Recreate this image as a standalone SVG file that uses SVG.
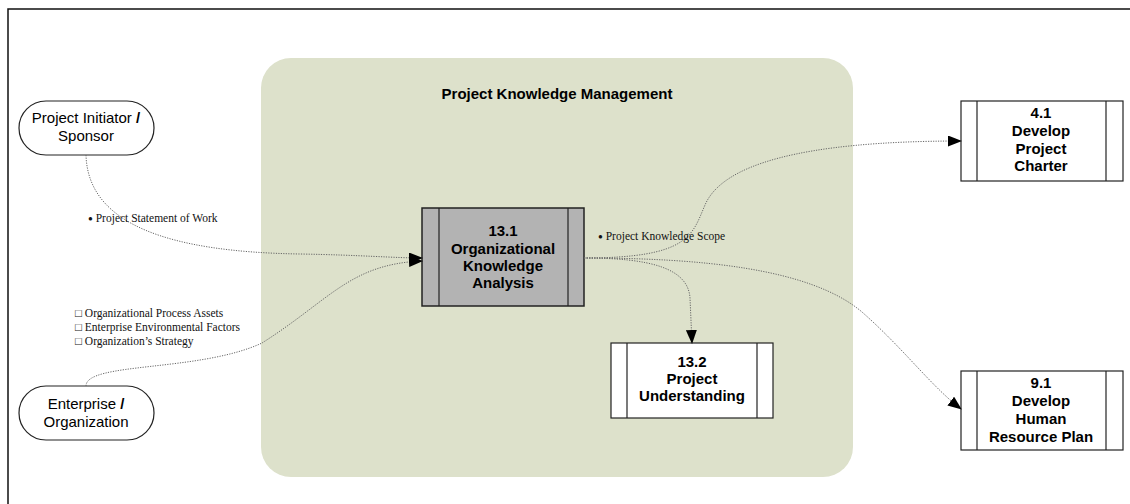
<svg xmlns="http://www.w3.org/2000/svg" width="1130" height="504" viewBox="0 0 1130 504">
<style>
.frame{fill:none;stroke:#111;stroke-width:1.5}
.term{fill:#fff;stroke:#222;stroke-width:1.2}
.proc{fill:#fff;stroke:#222;stroke-width:1.2}
.procg{fill:#b3b3b3;stroke:#222;stroke-width:1.5}
.bar{stroke:#222;stroke-width:1.2}
.t{font-family:"Liberation Sans",Arial,sans-serif;font-size:15px;fill:#000;text-anchor:middle}
.b{font-family:"Liberation Sans",Arial,sans-serif;font-size:15px;font-weight:bold;fill:#000;text-anchor:middle}
.s{font-family:"Liberation Serif","Times New Roman",serif;font-size:11.5px;fill:#111}
.c{fill:none;stroke:#666;stroke-width:1;stroke-dasharray:1.2 1.3}
</style>
<defs>
<marker id="arr" viewBox="0 0 14 11" refX="13" refY="5.5" markerWidth="14" markerHeight="11" markerUnits="userSpaceOnUse" orient="auto">
<path d="M0,0 L14,5.5 L0,11 z" fill="#000"/>
</marker>
</defs>
<rect width="1130" height="504" fill="#fff"/>
<path class="frame" d="M8,504 V9 H1130"/>
<g id="container">
<rect x="261" y="58" width="592" height="419" rx="30" ry="30" fill="#dde1cb"/>
<text class="b" x="557" y="99">Project Knowledge Management</text>
</g>
<g id="sponsor">
<rect class="term" x="19" y="101" width="135" height="54" rx="27" ry="27"/>
<text class="t" x="86" y="123">Project Initiator <tspan font-weight="bold">/</tspan></text>
<text class="t" x="86" y="141">Sponsor</text>
</g>
<g id="enterprise">
<rect class="term" x="19" y="386" width="135" height="54" rx="27" ry="27"/>
<text class="t" x="86" y="409">Enterprise <tspan font-weight="bold">/</tspan></text>
<text class="t" x="86" y="427">Organization</text>
</g>
<g id="p131">
<rect class="procg" x="422" y="208" width="162" height="98"/>
<line class="bar" x1="439" y1="208" x2="439" y2="306"/>
<line class="bar" x1="568" y1="208" x2="568" y2="306"/>
<text class="b" x="503" y="236">13.1</text>
<text class="b" x="503" y="254">Organizational</text>
<text class="b" x="503" y="271">Knowledge</text>
<text class="b" x="503" y="288">Analysis</text>
</g>
<g id="p132">
<rect class="proc" x="611" y="343" width="162" height="75"/>
<line class="bar" x1="627" y1="343" x2="627" y2="418"/>
<line class="bar" x1="757" y1="343" x2="757" y2="418"/>
<text class="b" x="692" y="367">13.2</text>
<text class="b" x="692" y="384">Project</text>
<text class="b" x="692" y="401">Understanding</text>
</g>
<g id="p41">
<rect class="proc" x="961" y="101" width="162" height="80"/>
<line class="bar" x1="977" y1="101" x2="977" y2="181"/>
<line class="bar" x1="1106" y1="101" x2="1106" y2="181"/>
<text class="b" x="1041" y="118">4.1</text>
<text class="b" x="1041" y="136">Develop</text>
<text class="b" x="1041" y="154">Project</text>
<text class="b" x="1041" y="171">Charter</text>
</g>
<g id="p91">
<rect class="proc" x="961" y="371" width="162" height="79"/>
<line class="bar" x1="977" y1="371" x2="977" y2="450"/>
<line class="bar" x1="1106" y1="371" x2="1106" y2="450"/>
<text class="b" x="1041" y="388">9.1</text>
<text class="b" x="1041" y="406">Develop</text>
<text class="b" x="1041" y="424">Human</text>
<text class="b" x="1041" y="442">Resource Plan</text>
</g>
<g id="connectors">
<path class="c" marker-end="url(#arr)" d="M86,155 C88,225 170,252 300,254 C360,255 395,258 422,258"/>
<path class="c" marker-end="url(#arr)" d="M86,386 C86,362 200,372 262,343 C330,300 350,264 422,261"/>
<path class="c" marker-end="url(#arr)" d="M584,258 C690,258 692,235 705,205 C722,165 800,141 961,141"/>
<path class="c" marker-end="url(#arr)" d="M584,258 C650,258 688,268 690,298 L692,343"/>
<path class="c" marker-end="url(#arr)" d="M584,258 C700,258 810,268 862,312 C905,350 930,385 961,409"/>
</g>
<g id="labels">
<text class="s" x="88" y="222"><tspan font-size="8px" dy="-1">●</tspan><tspan dy="1"> Project Statement of Work</tspan></text>
<text class="s" x="75" y="317">□ Organizational Process Assets</text>
<text class="s" x="75" y="331">□ Enterprise Environmental Factors</text>
<text class="s" x="75" y="345">□ Organization’s Strategy</text>
<text class="s" x="598" y="240"><tspan font-size="8px" dy="-1">●</tspan><tspan dy="1"> Project Knowledge Scope</tspan></text>
</g>
</svg>
